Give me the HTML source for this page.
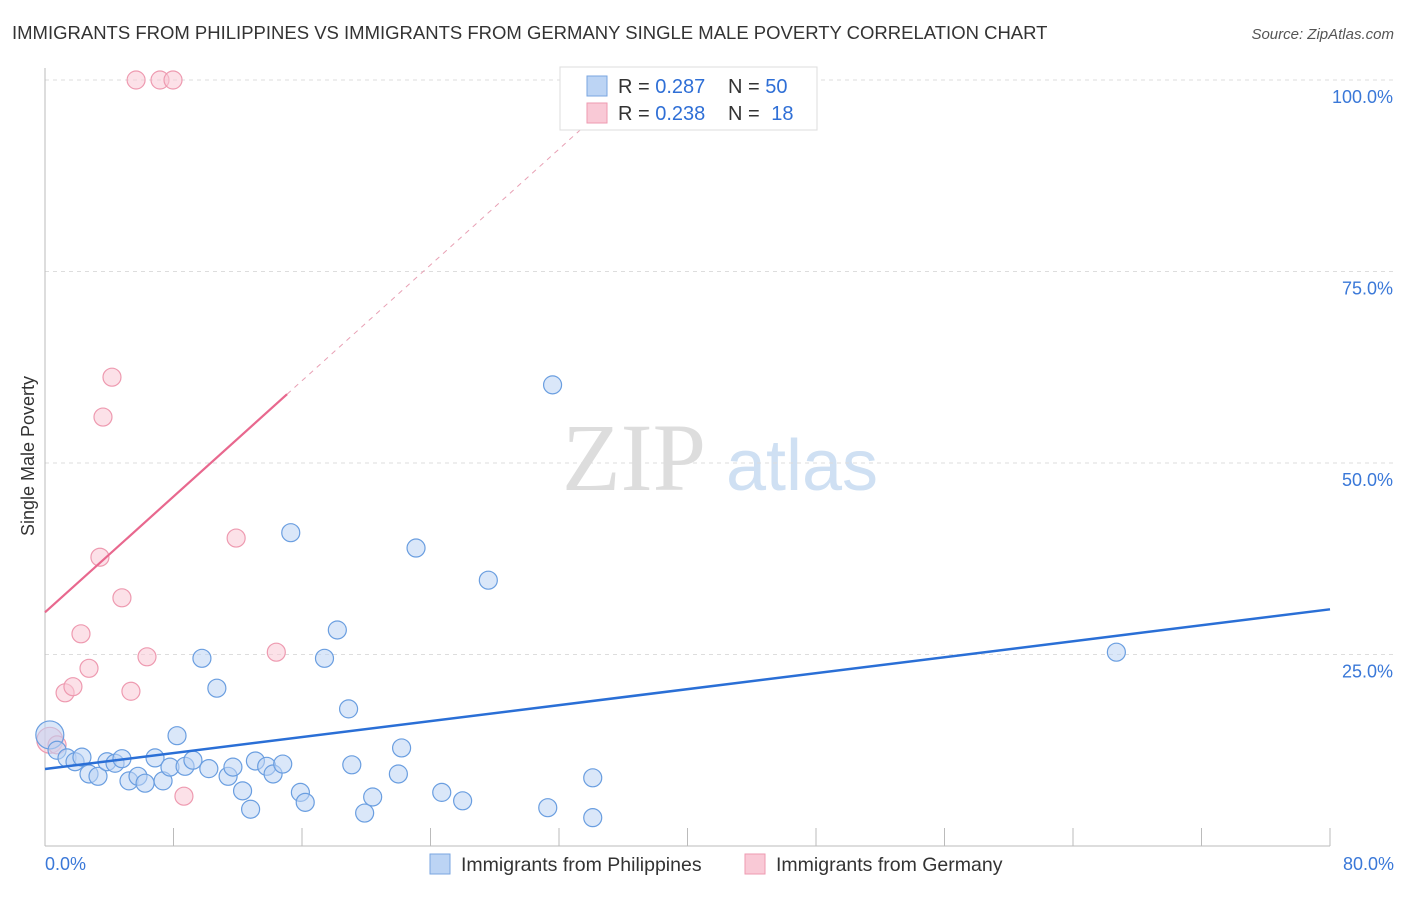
<!DOCTYPE html>
<html><head><meta charset="utf-8"><style>
body{margin:0;background:#fff;font-family:"Liberation Sans",sans-serif}
</style></head><body>
<svg width="1406" height="892" xmlns="http://www.w3.org/2000/svg" font-family="Liberation Sans, sans-serif">
<text x="12" y="39" font-size="18.5" fill="#333">IMMIGRANTS FROM PHILIPPINES VS IMMIGRANTS FROM GERMANY SINGLE MALE POVERTY CORRELATION CHART</text>
<text x="1394" y="39" font-size="15" fill="#555" font-style="italic" text-anchor="end">Source: ZipAtlas.com</text>
<g><text x="634" y="490" font-size="96" fill="#ddd" font-family="Liberation Serif, serif" text-anchor="middle">ZIP</text><text x="802" y="490" font-size="72" fill="#cfe0f3" text-anchor="middle">atlas</text></g>
<g id="grid"></g><g id="axes"></g><g id="marks"></g>
<text x="34" y="456" font-size="18" fill="#333" text-anchor="middle" transform="rotate(-90 34 456)">Single Male Poverty</text>
<g>
<rect x="560" y="67" width="257" height="63" fill="#fff" stroke="#ddd"/>
<rect x="587" y="76" width="20" height="20" fill="#bcd4f4" stroke="#7aa6e0"/>
<text x="618" y="93" font-size="20" fill="#333">R = <tspan fill="#2f6fd6">0.287</tspan></text>
<text x="728" y="93" font-size="20" fill="#333">N = <tspan fill="#2f6fd6">50</tspan></text>
<rect x="587" y="103" width="20" height="20" fill="#f9c9d6" stroke="#ee9ab0"/>
<text x="618" y="120" font-size="20" fill="#333">R = <tspan fill="#2f6fd6">0.238</tspan></text>
<text x="728" y="120" font-size="20" fill="#333">N = <tspan fill="#2f6fd6" dx="6">18</tspan></text>
</g>
<g>
<rect x="430" y="854" width="20" height="20" fill="#bcd4f4" stroke="#7aa6e0"/>
<text x="461" y="871" font-size="19.5" fill="#333">Immigrants from Philippines</text>
<rect x="745" y="854" width="20" height="20" fill="#f9c9d6" stroke="#ee9ab0"/>
<text x="776" y="871" font-size="19.5" fill="#333">Immigrants from Germany</text>
</g>
</svg>
<script>
const blueX=[0.3,0.75,1.37,1.87,2.3,2.74,3.3,3.86,4.36,4.79,5.23,5.79,6.23,6.85,7.35,7.78,8.22,8.72,9.21,9.77,10.2,10.7,11.4,11.7,12.3,12.8,13.1,13.8,14.2,14.8,15.3,15.9,16.2,17.4,18.2,18.9,19.1,19.9,20.4,22.0,22.2,23.1,24.7,26.0,27.6,31.3,31.6,34.1,34.1,66.7];
const blueY=[14.5,12.5,11.5,11.0,11.6,9.4,9.1,11.0,10.8,11.4,8.5,9.1,8.2,11.5,8.5,10.3,14.4,10.4,11.2,24.5,10.1,20.6,9.1,10.3,7.2,4.8,11.1,10.4,9.4,10.7,40.9,7.0,5.7,24.5,28.2,17.9,10.6,4.3,6.4,9.4,12.8,38.9,7.0,5.9,34.7,5.0,60.2,8.9,3.7,25.3];
const pinkX=[0.3,0.75,1.25,1.74,2.24,2.74,3.42,3.61,4.17,4.79,5.35,6.35,8.65,11.9,14.4,5.67,7.16,7.97];
const pinkY=[13.8,13.2,20.0,20.8,27.7,23.2,37.7,56.0,61.2,32.4,20.2,24.7,6.5,40.2,25.3,100,100,100];
const yTicks=[25,50,75,100];
const xTicks=[0,8,16,24,32,40,48,56,64,72,80];
const blueTrend=[10.05,30.9];
const pinkTrend=[30.5,1.89];
const X=v=>45+v/80*1285, Y=v=>846-v/100*766;
const NS='http://www.w3.org/2000/svg';
function mk(p,t,a){const e=document.createElementNS(NS,t);for(const k in a)e.setAttribute(k,a[k]);p.appendChild(e);return e;}
const grid=document.getElementById('grid'),axes=document.getElementById('axes'),marks=document.getElementById('marks');
yTicks.forEach(t=>{const l=mk(grid,'line',{x1:45,x2:1394,y1:Y(t),y2:Y(t),stroke:'#ddd','stroke-dasharray':'4,4'});


const tx=mk(axes,'text',{x:1393,y:Y(t)+23,'font-size':18,fill:'#3a78d8','text-anchor':'end'});tx.textContent=t.toFixed(1)+'%';

});
mk(axes,'line',{x1:45,x2:45,y1:68,y2:846,stroke:'#bbb'});
mk(axes,'line',{x1:45,x2:1330,y1:846,y2:846,stroke:'#bbb'});
xTicks.forEach(t=>{const l=mk(axes,'line',{x1:X(t),x2:X(t),y1:828,y2:846,stroke:'#bbb'});

});
[[0,'0.0%','start',45],[80,'80.0%','end',1394]].forEach(a=>{const tx=mk(axes,'text',{x:a[3],y:870,'font-size':18,fill:'#3a78d8','text-anchor':a[2]});tx.textContent=a[1];

});
function dots(xs,ys,fill,stroke,name,big){xs.forEach((x,i)=>{const c=mk(marks,'circle',{cx:X(x),cy:Y(ys[i]),r:i===0?big:9,fill:fill,'fill-opacity':0.55,stroke:stroke,'stroke-width':1.2});

});}
dots(pinkX,pinkY,'#f9c9d6','#ee9ab0','germany-point',13);
dots(blueX,blueY,'#bcd4f4','#6a9ee0','philippines-point',14);
const bl=mk(marks,'line',{x1:X(0),y1:Y(blueTrend[0]),x2:X(80),y2:Y(blueTrend[1]),stroke:'#2a6fd6','stroke-width':2.5});


const pl=mk(marks,'line',{x1:X(0),y1:Y(pinkTrend[0]),x2:X(15.07),y2:Y(pinkTrend[0]+pinkTrend[1]*15.07),stroke:'#e8688e','stroke-width':2.2});


const pd=mk(marks,'line',{x1:X(15.07),y1:Y(pinkTrend[0]+pinkTrend[1]*15.07),x2:X(33.5),y2:Y(pinkTrend[0]+pinkTrend[1]*33.5),stroke:'#e8a0b4','stroke-width':1,'stroke-dasharray':'5,5'});


</script>
</body></html>
